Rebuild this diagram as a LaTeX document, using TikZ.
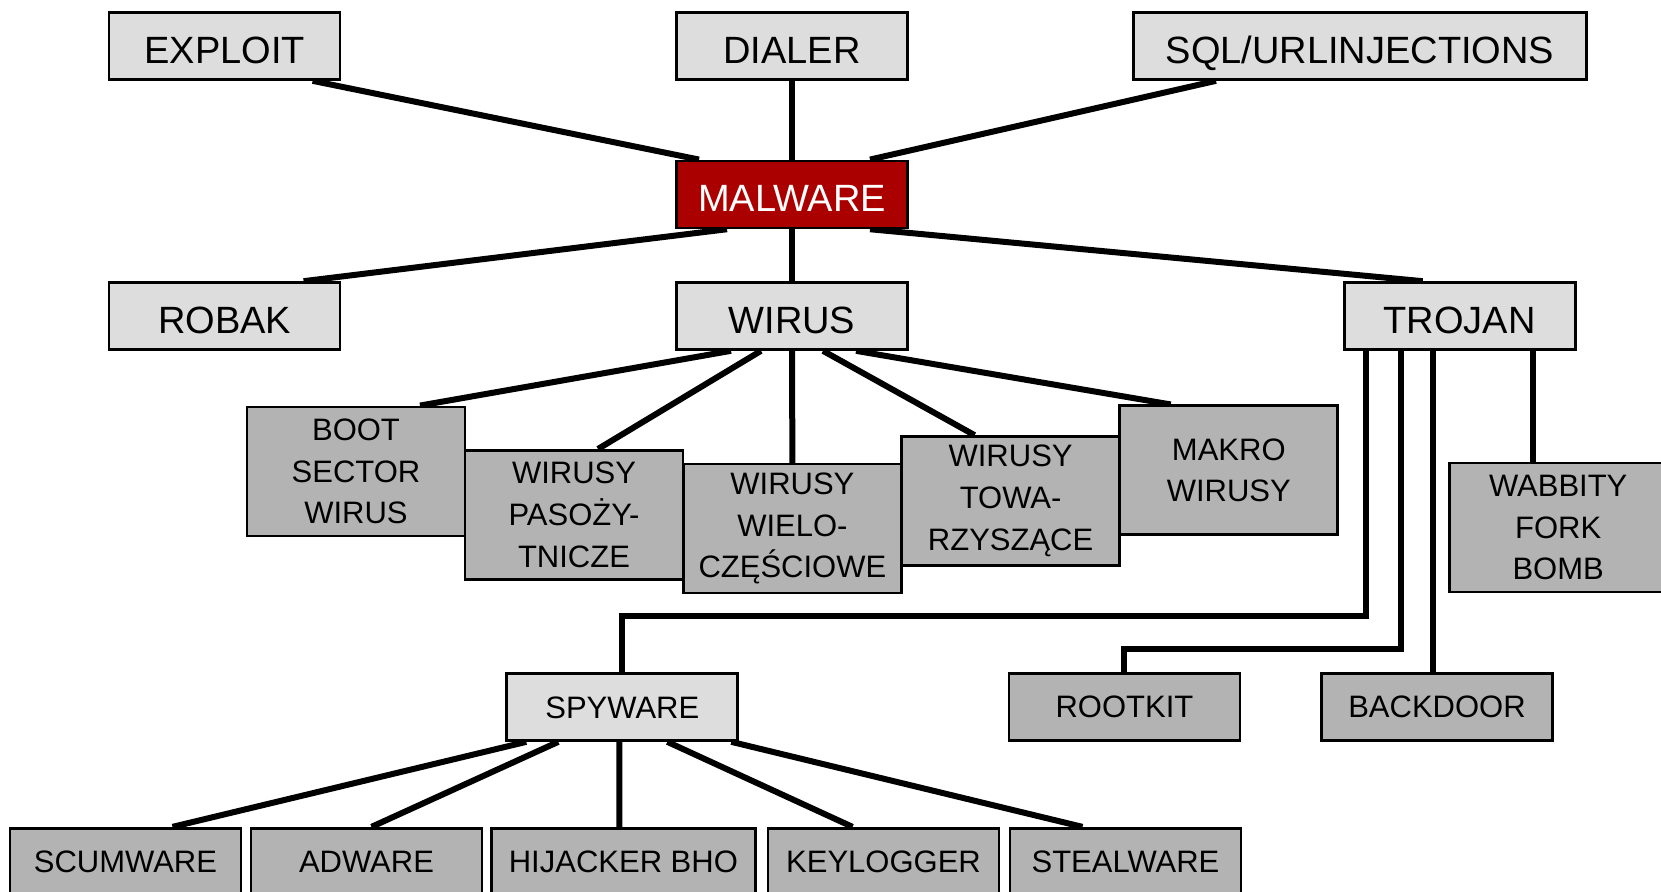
\documentclass[tikz,border=0pt]{standalone}
\usepackage{fontspec}
\setmainfont{Liberation Sans}
\usepackage{xcolor}
\usepackage{tikz}
\usetikzlibrary{calc,backgrounds}
\definecolor{lightbox}{HTML}{DDDDDD}
\definecolor{darkbox}{HTML}{B3B3B3}
\definecolor{malred}{HTML}{AA0000}

\begin{document}
\begin{tikzpicture}[
  x=0.75pt,y=-0.75pt,
  topbox/.style={draw=black,line width=2pt,fill=lightbox,inner sep=0pt,minimum width=173.25pt,minimum height=50.25pt,text height=25.6pt,text depth=0pt,font=\fontsize{28.5}{34}\selectfont},
  redbox/.style={topbox,fill=malred,text=white},
  midbox/.style={topbox,text height=16.6pt,font=\fontsize{23.25}{30}\selectfont},
  leafbox/.style={draw=black,line width=2pt,fill=darkbox,inner sep=0pt,align=center,minimum width=163.5pt,minimum height=96.75pt,font=\fontsize{23.25}{31.3}\selectfont},
  smallbox/.style={leafbox,minimum width=173.25pt,minimum height=50.25pt},
  link/.style={line width=4.5pt,draw=black}
]
\clip (0,0) rectangle (1661,892);

% top level
\node[topbox] (exploit) at (224.6,46) {EXPLOIT};
\node[topbox] (dialer) at (792,46) {DIALER};
\node[topbox,minimum width=339.75pt] (sqlinj) at (1360,46) {SQL/URLINJECTIONS};
\node[redbox] (malware) at (792,194.4) {MALWARE};
\node[topbox] (robak) at (224.6,316) {ROBAK};
\node[topbox] (wirus) at (792,316) {WIRUS};
\node[topbox] (trojan) at (1459.7,316) {TROJAN};

% virus kinds
\node[leafbox] (boot) at (356,471.4) {BOOT\\SECTOR\\WIRUS};
\node[leafbox] (pasoz) at (574,514.8) {WIRUSY\\PASOŻY-\\TNICZE};
\node[leafbox] (wielo) at (792.4,528.6) {WIRUSY\\WIELO-\\CZĘŚCIOWE};
\node[leafbox] (towa) at (1010.6,501) {WIRUSY\\TOWA-\\RZYSZĄCE};
\node[leafbox] (makro) at (1228.8,470.3) {MAKRO\\WIRUSY};
\node[leafbox] (wabbit) at (1558.2,527.5) {WABBITY\\FORK\\BOMB};

% trojan kinds
\node[midbox] (spyware) at (622.3,707) {SPYWARE};
\node[smallbox] (rootkit) at (1124.4,707) {ROOTKIT};
\node[smallbox] (backdoor) at (1437,707) {BACKDOOR};

% spyware kinds
\node[smallbox] (scum) at (125.5,861.7) {SCUMWARE};
\node[smallbox] (adware) at (366.5,861.7) {ADWARE};
\node[smallbox,minimum width=198pt] (hijack) at (623.4,861.7) {HIJACKER BHO};
\node[smallbox] (keylog) at (883.5,861.7) {KEYLOGGER};
\node[smallbox] (steal) at (1125.5,861.7) {STEALWARE};

\begin{scope}[on background layer]
\fill[white] (0,0) rectangle (1661,892);
\draw[link] ($(exploit.south)+(88,0)$) -- ($(malware.north)+(-93,0)$);
\draw[link] (dialer) -- (malware);
\draw[link] ($(sqlinj.south)+(-144,0)$) -- ($(malware.north)+(78,0)$);
\draw[link] ($(malware.south)+(-65,0)$) -- ($(robak.north)+(79,0)$);
\draw[link] (malware) -- (wirus);
\draw[link] ($(malware.south)+(78,0)$) -- ($(trojan.north)+(-37,0)$);

\draw[link] ($(wirus.south)+(-61,0)$) -- ($(boot.north)+(64,0)$);
\draw[link] ($(wirus.south)+(-31,0)$) -- ($(pasoz.north)+(24,0)$);
\draw[link] (wirus.south) -- (wielo.north);
\draw[link] ($(wirus.south)+(31,0)$) -- ($(towa.north)+(-36,0)$);
\draw[link] ($(wirus.south)+(64,0)$) -- ($(makro.north)+(-58,0)$);

\draw[link] ($(trojan.south)+(-94,0)$) -- ++(0,265) -| (spyware.north);
\draw[link] ($(trojan.south)+(-59,0)$) -- ++(0,298) -| (rootkit.north);
\draw[link] ($(trojan.south)+(-27,0)$) coordinate (legc) -- (legc |- backdoor.north);
\draw[link] ($(trojan.south)+(73,0)$) coordinate (legd) -- (legd |- wabbit.north);

\draw[link] ($(spyware.south)+(-96,0)$) -- ($(scum.north)+(47,0)$);
\draw[link] ($(spyware.south)+(-64,0)$) -- ($(adware.north)+(5,0)$);
\draw[link] ($(spyware.south)+(-3,0)$) -- ($(hijack.north)+(-4,0)$);
\draw[link] ($(spyware.south)+(45,0)$) -- ($(keylog.north)+(-31,0)$);
\draw[link] ($(spyware.south)+(109,0)$) -- ($(steal.north)+(-43,0)$);
\end{scope}
\end{tikzpicture}
\end{document}
